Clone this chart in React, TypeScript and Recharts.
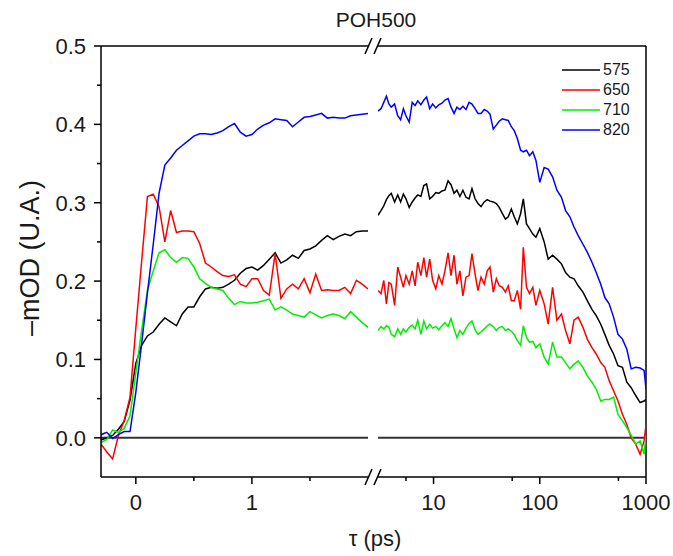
import React from "react";
import { LineChart, Line, XAxis, YAxis, ReferenceLine, Legend } from "recharts";

const FONT = '"Liberation Sans", Arial, sans-serif';

// Early-time window (linear, ps)
const leftTime = [
  -0.3, -0.25, -0.2, -0.15, -0.1, -0.05, 0, 0.05, 0.1, 0.15, 0.2, 0.25, 0.3, 0.35, 0.4, 0.45,
  0.5, 0.55, 0.6, 0.65, 0.7, 0.75, 0.8, 0.85, 0.9, 0.95, 1, 1.05, 1.1, 1.15, 1.2, 1.25,
  1.3, 1.35, 1.4, 1.45, 1.5, 1.55, 1.6, 1.65, 1.7, 1.75, 1.8, 1.85, 1.9, 1.95, 2,
];
const s575Left = [
  -0.003, 0.0, 0.003, 0.011, 0.021, 0.048, 0.095, 0.118, 0.13, 0.135, 0.145, 0.153, 0.148, 0.143, 0.158, 0.167,
  0.167, 0.18, 0.19, 0.192, 0.191, 0.192, 0.196, 0.201, 0.21, 0.216, 0.218, 0.214, 0.22, 0.228, 0.236, 0.223,
  0.227, 0.233, 0.229, 0.239, 0.241, 0.245, 0.252, 0.258, 0.253, 0.257, 0.26, 0.258, 0.263, 0.264, 0.264,
];
const s650Left = [
  -0.008, -0.018, -0.027, 0.003, 0.022, 0.052, 0.14, 0.225, 0.308, 0.311, 0.295, 0.25, 0.29, 0.262, 0.264, 0.264,
  0.263, 0.248, 0.223, 0.218, 0.212, 0.207, 0.206, 0.208, 0.196, 0.193, 0.203, 0.203, 0.188, 0.182, 0.235, 0.178,
  0.19, 0.196, 0.19, 0.203, 0.185, 0.209, 0.188, 0.189, 0.188, 0.188, 0.192, 0.184, 0.201, 0.196, 0.19,
];
const s710Left = [
  -0.006, -0.002, 0.01, 0.007, 0.012, 0.028, 0.083, 0.137, 0.188, 0.213, 0.236, 0.24, 0.23, 0.224, 0.23, 0.229,
  0.218, 0.203, 0.197, 0.192, 0.19, 0.188, 0.178, 0.17, 0.174, 0.172, 0.172, 0.173, 0.175, 0.177, 0.163, 0.167,
  0.163, 0.158, 0.156, 0.154, 0.161, 0.157, 0.153, 0.156, 0.158, 0.156, 0.152, 0.161, 0.154, 0.147, 0.141,
];
const s820Left = [
  0.004, 0.007, -0.001, 0.004, 0.008, 0.008, 0.058, 0.12, 0.185, 0.247, 0.312, 0.348, 0.357, 0.367, 0.373, 0.379,
  0.385, 0.388, 0.388, 0.387, 0.389, 0.392, 0.397, 0.401, 0.39, 0.385, 0.387, 0.394, 0.399, 0.402, 0.407, 0.406,
  0.405, 0.397, 0.403, 0.409, 0.41, 0.412, 0.414, 0.408, 0.409, 0.408, 0.408, 0.411, 0.412, 0.413, 0.414,
];

// Late-time window (log, ps)
const rightTime = [
  3, 3.2, 3.4, 3.6, 3.8, 4, 4.3, 4.6, 4.9, 5.2, 5.5, 5.9, 6.3, 6.7, 7.1, 7.6, 8.1, 8.6, 9.2, 9.8,
  10.5, 11.2, 12, 12.8, 13.7, 14.6, 15.6, 16.6, 17.7, 18.9, 20.2, 21.6, 23, 24.6, 26.2, 28, 30, 32, 34, 36.5,
  39, 41.5, 44.5, 47.5, 50.5, 54, 57.5, 61.5, 66, 70, 75, 80, 86, 92, 100, 110, 120, 132, 145, 160,
  175, 192, 210, 230, 255, 280, 310, 340, 375, 410, 450, 495, 545, 600, 660, 725, 800, 880, 960, 1000,
];
const s575Right = [
  0.284, 0.29, 0.296, 0.304, 0.309, 0.312, 0.301, 0.31, 0.301, 0.311, 0.305, 0.294, 0.301, 0.306, 0.31, 0.308, 0.322, 0.324, 0.305, 0.308,
  0.313, 0.312, 0.315, 0.316, 0.328, 0.323, 0.312, 0.316, 0.308, 0.316, 0.307, 0.305, 0.318, 0.305, 0.299, 0.295, 0.301, 0.304, 0.302, 0.301,
  0.299, 0.294, 0.286, 0.279, 0.282, 0.292, 0.282, 0.273, 0.286, 0.305, 0.273, 0.267, 0.26, 0.256, 0.267, 0.25, 0.228, 0.233, 0.228, 0.222,
  0.211, 0.205, 0.203, 0.194, 0.186, 0.175, 0.164, 0.156, 0.145, 0.132, 0.118, 0.107, 0.092, 0.09, 0.071, 0.064, 0.054, 0.045, 0.047, 0.049,
];
const s650Right = [
  0.188, 0.184, 0.201, 0.171, 0.198, 0.196, 0.169, 0.218, 0.205, 0.192, 0.207, 0.196, 0.213, 0.194, 0.224, 0.207, 0.23, 0.205, 0.228, 0.201,
  0.19, 0.207, 0.196, 0.213, 0.236, 0.207, 0.233, 0.196, 0.213, 0.181, 0.205, 0.207, 0.235, 0.209, 0.188, 0.205, 0.196, 0.213, 0.218, 0.186,
  0.203, 0.194, 0.192, 0.186, 0.194, 0.175, 0.175, 0.188, 0.164, 0.243, 0.192, 0.184, 0.192, 0.169, 0.188, 0.171, 0.145, 0.192, 0.15, 0.158,
  0.137, 0.12, 0.15, 0.154, 0.141, 0.126, 0.115, 0.107, 0.096, 0.09, 0.073, 0.06, 0.047, 0.03, 0.017, 0.0, -0.008, -0.021, -0.004, 0.017,
];
const s710Right = [
  0.137, 0.142, 0.139, 0.143, 0.141, 0.132, 0.129, 0.139, 0.132, 0.139, 0.135, 0.141, 0.144, 0.139, 0.15, 0.132, 0.149, 0.139, 0.145, 0.14,
  0.142, 0.138, 0.143, 0.147, 0.142, 0.152, 0.139, 0.128, 0.137, 0.132, 0.14, 0.146, 0.149, 0.138, 0.132, 0.135, 0.139, 0.143, 0.145, 0.142,
  0.137, 0.141, 0.142, 0.137, 0.139, 0.136, 0.132, 0.124, 0.118, 0.143, 0.128, 0.122, 0.123, 0.115, 0.12, 0.103, 0.094, 0.122, 0.103, 0.103,
  0.096, 0.088, 0.094, 0.098, 0.09, 0.079, 0.071, 0.062, 0.047, 0.049, 0.049, 0.052, 0.03, 0.022, 0.013, 0.003, -0.008, -0.004, -0.021, 0.003,
];
const s820Right = [
  0.417, 0.42, 0.428, 0.436, 0.426, 0.422, 0.426, 0.411, 0.406, 0.42, 0.411, 0.403, 0.428, 0.424, 0.43, 0.425, 0.431, 0.435, 0.42, 0.426,
  0.421, 0.425, 0.427, 0.431, 0.433, 0.422, 0.414, 0.422, 0.419, 0.423, 0.419, 0.428, 0.426, 0.42, 0.414, 0.414, 0.419, 0.417, 0.413, 0.394,
  0.399, 0.404, 0.407, 0.406, 0.405, 0.397, 0.392, 0.382, 0.367, 0.365, 0.367, 0.36, 0.365, 0.354, 0.326, 0.345, 0.343, 0.333, 0.316, 0.307,
  0.29, 0.282, 0.269, 0.258, 0.247, 0.237, 0.224, 0.211, 0.196, 0.179, 0.171, 0.154, 0.132, 0.126, 0.113, 0.088, 0.09, 0.089, 0.086, 0.062,
];

const seriesNames = ["575", "650", "710", "820"];
const seriesColors = ["#000000", "#ff0000", "#00ee00", "#0000ff"];

const yTicks = [0, 0.05, 0.1, 0.15, 0.2, 0.25, 0.3, 0.35, 0.4, 0.45, 0.5];
const leftTicks = [0, 0.5, 1, 1.5];
const leftMajor = [0, 1];
const rightTicks = [5.5, 10, 55, 100, 550, 1000];
const rightMajor = [10, 100, 1000];

const leftRows = leftTime.map((t, i) => ({
  t, s575: s575Left[i], s650: s650Left[i], s710: s710Left[i], s820: s820Left[i],
}));
const rightRows = rightTime.map((t, i) => ({
  t, s575: s575Right[i], s650: s650Right[i], s710: s710Right[i], s820: s820Right[i],
}));

const YTick = (props: any) => {
  const { x, y, payload } = props;
  const major = Math.round(payload.value * 100) % 10 === 0;
  return (
    <g>
      <line x1={x} y1={y} x2={x - (major ? 7 : 4)} y2={y} stroke="#000" strokeWidth={1.5} />
      {major && (
        <text x={x - 15} y={y + 8} textAnchor="end" fontSize={22} fontFamily={FONT} fill="#1a1a1a">
          {payload.value.toFixed(1)}
        </text>
      )}
    </g>
  );
};

const xTick = (majors: number[]) => (props: any) => {
  const { x, y, payload } = props;
  const major = majors.includes(payload.value);
  return (
    <g>
      <line x1={x} y1={y} x2={x} y2={y + (major ? 7 : 4)} stroke="#000" strokeWidth={1.5} />
      {major && (
        <text x={x} y={y + 33} textAnchor="middle" fontSize={22} fontFamily={FONT} fill="#1a1a1a">
          {payload.value}
        </text>
      )}
    </g>
  );
};

const LegendBox = ({ payload }: any) => (
  <div style={{ fontFamily: FONT, fontSize: 16, color: "#1a1a1a" }}>
    {(payload || []).map((p: any) => (
      <div key={p.value} style={{ display: "flex", alignItems: "center", height: 20 }}>
        <svg width={40} height={20}>
          <line x1={0} y1={10} x2={38} y2={10} stroke={p.color} strokeWidth={1.5} />
        </svg>
        <span style={{ marginLeft: 1 }}>{p.value}</span>
      </div>
    ))}
  </div>
);

const axisLine = { stroke: "#000", strokeWidth: 1.5 };

const renderLines = () =>
  seriesNames.map((n, i) => (
    <Line
      key={n}
      type="linear"
      dataKey={`s${n}`}
      name={n}
      stroke={seriesColors[i]}
      strokeWidth={1.5}
      dot={false}
      isAnimationActive={false}
    />
  ));

// "//" axis-break glyph
const BreakMark = ({ cx, cy }: { cx: number; cy: number }) => (
  <g stroke="#000" strokeWidth={1.5}>
    <line x1={cx - 8} y1={cy + 8} x2={cx - 1} y2={cy - 8} />
    <line x1={cx + 1} y1={cy + 8} x2={cx + 8} y2={cy - 8} />
  </g>
);

export default function App() {
  return (
    <div style={{ position: "absolute", left: 0, top: 0, width: 673, height: 556, background: "#fff" }}>
      <div style={{ position: "absolute", left: 0, top: 0 }}>
        <LineChart width={673} height={556} data={leftRows} margin={{ top: 46, right: 305, bottom: 39, left: 41 }}>
          <XAxis
            dataKey="t" type="number" domain={[-0.3, 2]} allowDataOverflow
            ticks={leftTicks} interval={0} tickSize={0} tickMargin={0}
            tick={xTick(leftMajor)} axisLine={axisLine} tickLine={false} height={40}
          />
          <YAxis
            type="number" domain={[-0.05, 0.5]} allowDataOverflow
            ticks={yTicks} interval={0} tickSize={0} tickMargin={0}
            tick={<YTick />} axisLine={axisLine} tickLine={false} width={60}
          />
          <ReferenceLine y={0} stroke="#333" strokeWidth={2} />
          <ReferenceLine y={0.5} stroke="#000" strokeWidth={1.5} />
          {renderLines()}
        </LineChart>
      </div>
      <div style={{ position: "absolute", left: 0, top: 0 }}>
        <LineChart width={673} height={556} data={rightRows} margin={{ top: 46, right: 27, bottom: 39, left: 378 }}>
          <XAxis
            dataKey="t" type="number" scale="log" domain={[3, 1000]} allowDataOverflow
            ticks={rightTicks} interval={0} tickSize={0} tickMargin={0}
            tick={xTick(rightMajor)} axisLine={axisLine} tickLine={false} height={40}
          />
          <YAxis type="number" domain={[-0.05, 0.5]} allowDataOverflow hide />
          <ReferenceLine y={0} stroke="#333" strokeWidth={2} />
          <ReferenceLine y={0.5} stroke="#000" strokeWidth={1.5} />
          <ReferenceLine x={1000} stroke="#000" strokeWidth={1.5} />
          {renderLines()}
          <Legend
            layout="vertical" align="center" verticalAlign="middle"
            content={<LegendBox />}
            wrapperStyle={{ top: 60, left: 562, width: 90 }}
          />
        </LineChart>
      </div>
      <svg width={673} height={556} style={{ position: "absolute", left: 0, top: 0, pointerEvents: "none" }}>
        <text x={376} y={27} textAnchor="middle" fontSize={21} fontFamily={FONT} fill="#1a1a1a">POH500</text>
        <text x={375} y={546} textAnchor="middle" fontSize={22} fontFamily={FONT} fill="#1a1a1a">τ (ps)</text>
        <text transform="translate(39, 258) rotate(-90)" textAnchor="middle" fontSize={27} fontFamily={FONT} fill="#1a1a1a">
          –mOD (U.A.)
        </text>
        <BreakMark cx={373} cy={46} />
        <BreakMark cx={373} cy={477} />
      </svg>
    </div>
  );
}
